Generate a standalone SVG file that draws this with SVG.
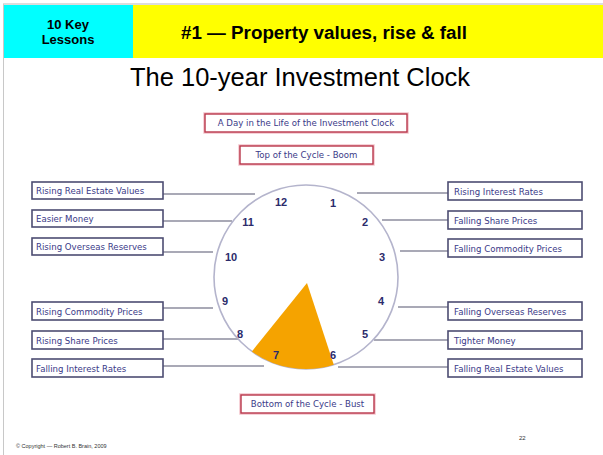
<svg xmlns="http://www.w3.org/2000/svg" width="603" height="455" viewBox="0 0 603 455">
<style>
.box{fill:#fff;stroke:#4d4d72;stroke-width:1.6}
.rbox{fill:#fff;stroke:#b8374a;stroke-width:1.4}
.halo{fill:none;stroke:#f3c4cb;stroke-width:3.5}
.lbl{font-family:"DejaVu Sans",Verdana,sans-serif;font-size:8.6px;fill:#3a3a88}
.num{font-family:"Liberation Sans",Arial,sans-serif;font-size:11px;font-weight:bold;fill:#2b2b6b;text-anchor:middle}
.conn line{stroke:#55556f;stroke-width:1.2}
</style>
<rect width="603" height="455" fill="#fff"/>
<line x1="3.5" y1="4" x2="3.5" y2="455" stroke="#c8c8c8" stroke-width="1"/>
<line x1="3" y1="4" x2="603" y2="4" stroke="#d0d0d0" stroke-width="1.5"/>
<g id="header">
<rect x="4" y="5" width="129" height="53" fill="#00ffff"/>
<rect x="133" y="5" width="470" height="53" fill="#ffff00"/>
<text x="68" y="29" font-family="Liberation Sans,Arial,sans-serif" font-size="13" font-weight="bold" text-anchor="middle">10 Key</text>
<text x="68" y="44" font-family="Liberation Sans,Arial,sans-serif" font-size="13" font-weight="bold" text-anchor="middle">Lessons</text>
<text x="324" y="39" font-family="Liberation Sans,Arial,sans-serif" font-size="18.8" font-weight="bold" text-anchor="middle">#1 — Property values, rise &amp; fall</text>
</g>
<text id="title" x="300" y="86" font-family="Liberation Sans,Arial,sans-serif" font-size="25.5" text-anchor="middle">The 10-year Investment Clock</text>

<g class="conn" id="connectors">
<line x1="163" y1="194" x2="255" y2="194"/>
<line x1="163" y1="221" x2="232" y2="221"/>
<line x1="163" y1="252" x2="213" y2="252"/>
<line x1="163" y1="308" x2="213" y2="308"/>
<line x1="163" y1="339" x2="238" y2="339"/>
<line x1="163" y1="366" x2="264" y2="366"/>
<line x1="357" y1="193" x2="448" y2="193"/>
<line x1="382" y1="220" x2="448" y2="220"/>
<line x1="400" y1="251" x2="448" y2="251"/>
<line x1="398" y1="307" x2="448" y2="307"/>
<line x1="374" y1="340" x2="448" y2="340"/>
<line x1="338" y1="367" x2="448" y2="367"/>
</g>

<g id="clock">
<circle cx="306" cy="277" r="92" fill="#fff" stroke="#b4b4cc" stroke-width="1.6"/>
<path d="M307,283 L251.9,351.4 A92,92 0 0,0 333.8,364.7 Z" fill="#f5a300"/>
<text class="num" x="281" y="206">12</text>
<text class="num" x="333" y="207">1</text>
<text class="num" x="248" y="226">11</text>
<text class="num" x="365" y="226">2</text>
<text class="num" x="231" y="261">10</text>
<text class="num" x="382" y="261">3</text>
<text class="num" x="225" y="305">9</text>
<text class="num" x="381" y="305">4</text>
<text class="num" x="240" y="338">8</text>
<text class="num" x="365" y="338">5</text>
<text class="num" x="276" y="359">7</text>
<text class="num" x="333" y="359">6</text>
</g>

<g id="n-day"><rect class="halo" x="205" y="114" width="202" height="18"/><rect class="rbox" x="205" y="114" width="202" height="18"/><text class="lbl" x="306" y="126" text-anchor="middle">A Day in the Life of the Investment Clock</text></g>
<g id="n-top"><rect class="halo" x="240" y="146" width="133" height="18"/><rect class="rbox" x="240" y="146" width="133" height="18"/><text class="lbl" x="306.5" y="158" text-anchor="middle">Top of the Cycle - Boom</text></g>
<g id="n-bottom"><rect class="halo" x="241" y="395" width="133" height="18"/><rect class="rbox" x="241" y="395" width="133" height="18"/><text class="lbl" x="307.5" y="407" text-anchor="middle">Bottom of the Cycle - Bust</text></g>

<g id="n-l1"><rect class="box" x="32" y="182" width="131" height="17"/><text class="lbl" x="36" y="194">Rising Real Estate Values</text></g>
<g id="n-l2"><rect class="box" x="32" y="210" width="131" height="17"/><text class="lbl" x="36" y="222">Easier Money</text></g>
<g id="n-l3"><rect class="box" x="32" y="238" width="131" height="17"/><text class="lbl" x="36" y="250">Rising Overseas Reserves</text></g>
<g id="n-l4"><rect class="box" x="32" y="302" width="131" height="18"/><text class="lbl" x="36" y="315">Rising Commodity Prices</text></g>
<g id="n-l5"><rect class="box" x="32" y="331" width="131" height="18"/><text class="lbl" x="36" y="344">Rising Share Prices</text></g>
<g id="n-l6"><rect class="box" x="32" y="359" width="131" height="18"/><text class="lbl" x="36" y="372">Falling Interest Rates</text></g>

<g id="n-r1"><rect class="box" x="448" y="182" width="134" height="18"/><text class="lbl" x="454" y="195">Rising Interest Rates</text></g>
<g id="n-r2"><rect class="box" x="448" y="211" width="134" height="18"/><text class="lbl" x="454" y="224">Falling Share Prices</text></g>
<g id="n-r3"><rect class="box" x="448" y="239" width="134" height="18"/><text class="lbl" x="454" y="252">Falling Commodity Prices</text></g>
<g id="n-r4"><rect class="box" x="448" y="302" width="134" height="18"/><text class="lbl" x="454" y="315">Falling Overseas Reserves</text></g>
<g id="n-r5"><rect class="box" x="448" y="331" width="134" height="18"/><text class="lbl" x="454" y="344">Tighter Money</text></g>
<g id="n-r6"><rect class="box" x="448" y="359" width="134" height="18"/><text class="lbl" x="454" y="372">Falling Real Estate Values</text></g>

<text x="16" y="448" font-family="Liberation Sans,Arial,sans-serif" font-size="5.5" fill="#333">© Copyright — Robert B. Brain, 2009</text>
<text x="519" y="440" font-family="Liberation Sans,Arial,sans-serif" font-size="6" fill="#333">22</text>
</svg>
